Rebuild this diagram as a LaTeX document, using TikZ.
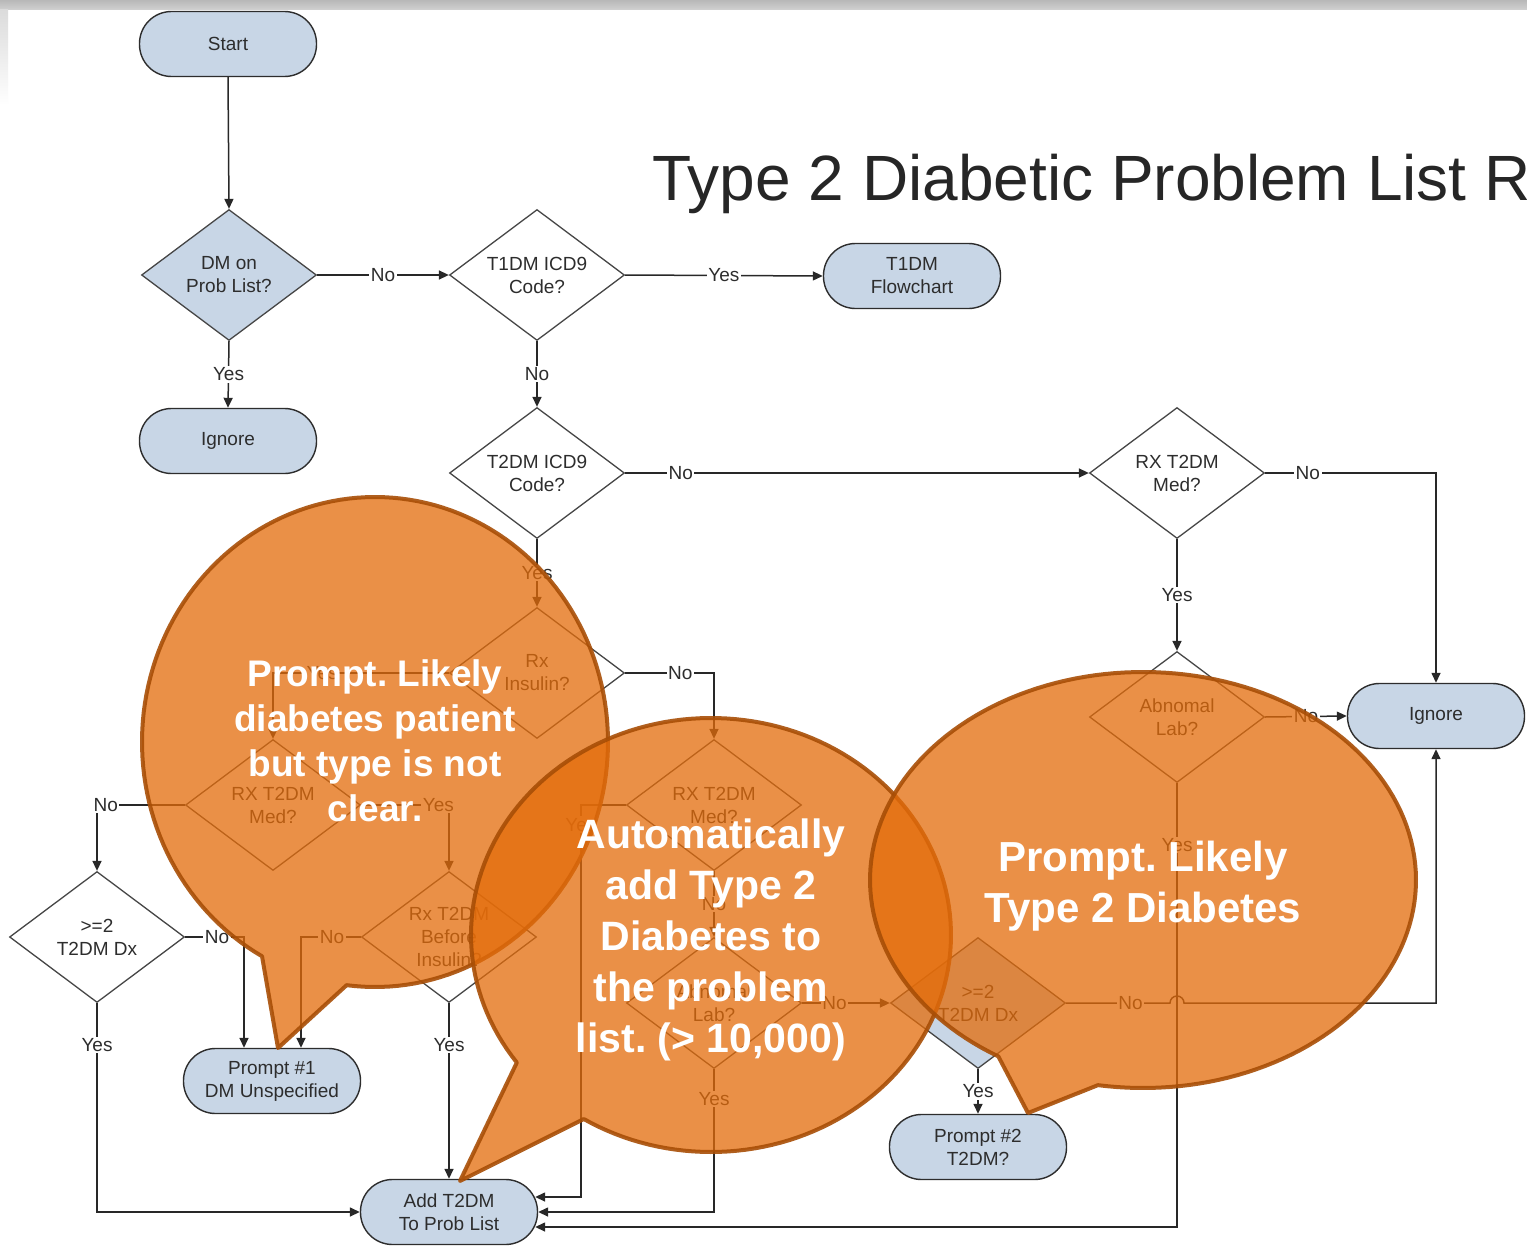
\documentclass[tikz,border=0pt]{standalone}
\usepackage{fontspec}
\setmainfont{Liberation Sans}
\usetikzlibrary{shapes.geometric,arrows.meta,calc}
\definecolor{nodeblue}{RGB}{200,214,230}
\definecolor{nodeborder}{RGB}{45,45,45}
\definecolor{diaborder}{RGB}{70,70,70}
\definecolor{linec}{RGB}{40,40,40}
\definecolor{txt}{RGB}{45,45,45}
\definecolor{titlec}{RGB}{38,38,38}
\definecolor{calfill}{RGB}{228,108,10}
\definecolor{calborder}{RGB}{168,78,6}
\newcommand\fcnodefont{\fontsize{19}{23}\selectfont}
\frenchspacing
\tikzset{
  term/.style={rectangle, rounded corners=32pt, draw=nodeborder, line width=1.4pt, fill=nodeblue,
    minimum width=177pt, minimum height=65pt, align=center, font=\fcnodefont, text=txt, inner sep=0pt},
  dia/.style={diamond, aspect=1.34, draw=diaborder, line width=1.3pt, fill=white,
    minimum width=175pt, minimum height=131pt, inner sep=0pt, align=center, font=\fcnodefont, text=txt},
  conn/.style={draw=linec, line width=1.5pt, -{Triangle[length=10pt,width=9pt]}},
  lab/.style={fill=white, inner sep=1.5pt, font=\fcnodefont, text=txt},
  callout/.style={fill=calfill, fill opacity=0.75, draw=calborder, draw opacity=0.9, line width=4pt, line join=round},
  caltext/.style={text=white, align=center, inner sep=0pt}
}
\begin{document}
\begin{tikzpicture}[x=1pt,y=-1pt]
\useasboundingbox (0,0) rectangle (1527,1247);
\clip (0,0) rectangle (1527,1247);
\fill[white] (0,0) rectangle (1527,1247);
\shade[top color=black!28, bottom color=black!18] (0,0) rectangle (1527,10);
\shade[top color=black!14, bottom color=white] (0,10) rectangle (8,105);

% title
\node[anchor=base west, inner sep=0pt, text=titlec, font=\fontsize{64}{70}\selectfont] (title) at (652,200) {Type 2 Diabetic Problem List R};

% nodes
\node[term] (start) at (228,44) {Start};
\node[dia,fill=nodeblue] (dmq) at (229,275) {DM on\\Prob List?};
\node[dia] (t1q) at (537,275) {T1DM ICD9\\Code?};
\node[term] (t1f) at (912,276) {T1DM\\Flowchart};
\node[term] (ign1) at (228,441) {Ignore};
\node[dia] (t2q) at (537,473) {T2DM ICD9\\Code?};
\node[dia] (rxr) at (1177,473) {RX T2DM\\Med?};
\node[dia] (rxi) at (537,673) {Rx\\Insulin?};
\node[dia] (abr) at (1177,717) {Abnomal\\Lab?};
\node[term] (ignr) at (1436,716) {Ignore};
\node[dia] (rxl) at (273,805) {RX T2DM\\Med?};
\node[dia] (rxm) at (714,805) {RX T2DM\\Med?};
\node[dia] (dxl) at (97,937) {>=2\\T2DM Dx};
\node[dia] (rxb) at (449,937) {Rx T2DM\\Before\\Insulin?};
\node[dia] (abm) at (714,1003) {Abnomal\\Lab?};
\node[dia,fill=nodeblue] (dxr) at (978,1003) {>=2\\T2DM Dx};
\node[term] (p1) at (272,1081) {Prompt \#1\\DM Unspecified};
\node[term] (p2) at (978,1147) {Prompt \#2\\T2DM?};
\node[term] (add) at (449,1212) {Add T2DM\\To Prob List};

% helper coordinates
\coordinate (addE1) at ($(add.east)+(-3,-15)$);
\coordinate (addE2) at (add.east);
\coordinate (addE3) at ($(add.east)+(-3,15)$);
\coordinate (p1a) at ($(p1.north)+(-28,0)$);
\coordinate (p1b) at ($(p1.north)+(29,0)$);
\coordinate (yesturn) at ($(rxm.west)+(-45,0)$);
\coordinate (hopL) at ($(dxr.east -| abr.south)+(-7,0)$);

% connectors
\draw[conn] (start.south) -- (dmq.north);
\draw[conn] (dmq.east) -- node[lab]{No} (t1q.west);
\draw[conn] (t1q.east) -- node[lab]{Yes} (t1f.west);
\draw[conn] (dmq.south) -- node[lab]{Yes} (ign1.north);
\draw[conn] (t1q.south) -- node[lab]{No} (t2q.north);
\draw[conn] (t2q.east) -- node[lab,pos=0.12]{No} (rxr.west);
\draw[conn] (rxr.east) -| node[lab,pos=0.125]{No} (ignr.north);
\draw[conn] (rxr.south) -- node[lab]{Yes} (abr.north);
\draw[conn] (abr.east) -- node[lab]{No} (ignr.west);
\draw[conn] (abr.south) |- node[lab,pos=0.07]{Yes} (addE3);
\draw[conn] (t2q.south) -- node[lab]{Yes} (rxi.north);
\draw[conn] (rxi.east) -| node[lab,pos=0.31]{No} (rxm.north);
\draw[conn] (rxi.west) -| node[lab,pos=0.36]{Yes} (rxl.north);
\draw[conn] (rxl.west) -| node[lab,pos=0.45]{No} (dxl.north);
\draw[conn] (rxl.east) -| node[lab,pos=0.44]{Yes} (rxb.north);
\draw[conn] (dxl.east) -| node[lab,pos=0.27]{No} (p1a);
\draw[conn] (rxb.west) -| node[lab,pos=0.24]{No} (p1b);
\draw[conn] (dxl.south) |- node[lab,pos=0.1]{Yes} (add.west);
\draw[conn] (rxb.south) -- node[lab,pos=0.24]{Yes} (add.north);
\draw[conn] (rxm.west) -- (yesturn) |- node[lab,pos=0.025]{Yes} (addE1);
\draw[conn] (rxm.south) -- node[lab]{No} (abm.north);
\draw[conn] (abm.east) -- node[lab,pos=0.37]{No} (dxr.west);
\draw[conn] (abm.south) |- node[lab,pos=0.105]{Yes} (addE2);
\draw[conn] (dxr.south) -- node[lab]{Yes} (p2.north);
\draw[conn] (dxr.east) -- node[lab,pos=0.62]{No} (hopL) arc[start angle=180,end angle=0,radius=7pt] -| (ignr.south);

% callouts
\draw[callout] plot[domain=119:457,samples=160] ({375+233*cos(\x)},{742+245*sin(\x)}) -- (278,1048) -- cycle;
\draw[callout] plot[domain=144:482,samples=160] ({711+240*cos(\x)},{935+217*sin(\x)}) -- (460,1181) -- cycle;
\draw[callout] plot[domain=122:459.5,samples=160] ({1143+273*cos(\x)},{880+208*sin(\x)}) -- (1028,1113) -- cycle;

\node[caltext, font=\fontsize{37}{45}\selectfont\bfseries] (c1t) at (375,741) {Prompt. Likely\\diabetes patient\\but type is not\\clear.};
\node[caltext, font=\fontsize{41}{51}\selectfont\bfseries] (c2t) at (711,940) {Automatically\\add Type 2\\Diabetes to\\the problem\\list. (> 10,000)};
\node[caltext, font=\fontsize{42}{51}\selectfont\bfseries] (c3t) at (1143,886) {Prompt. Likely\\Type 2 Diabetes};
\end{tikzpicture}
\end{document}
